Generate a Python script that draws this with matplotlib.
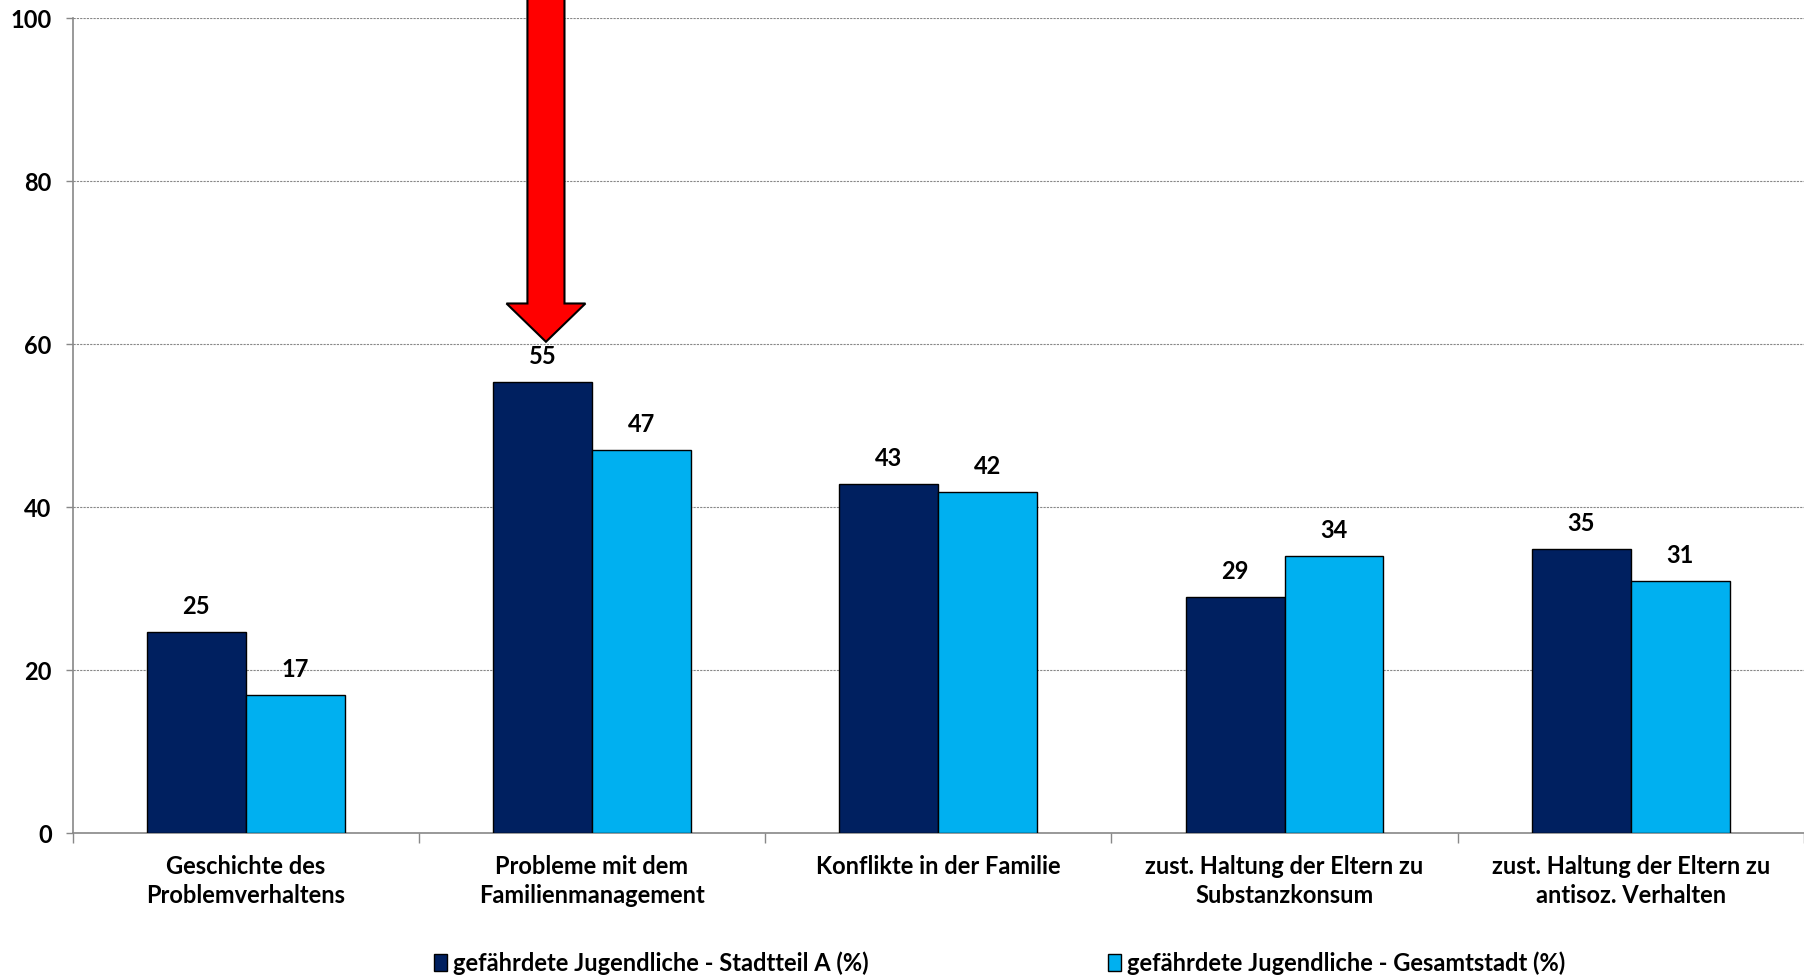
import matplotlib
matplotlib.use('Agg')
import matplotlib.pyplot as plt
import numpy as np
from matplotlib.patches import FancyArrow, Patch

plt.rcParams['font.family'] = ['Lato', 'DejaVu Sans']
plt.rcParams['font.weight'] = 'bold'

# Data
categories = ['Geschichte des\nProblemverhaltens',
              'Probleme mit dem\nFamilienmanagement',
              'Konflikte in der Familie',
              'zust. Haltung der Eltern zu\nSubstanzkonsum',
              'zust. Haltung der Eltern zu\nantisoz. Verhalten']
stadtteil = [24.7, 55.4, 42.9, 29.0, 34.9]
gesamt = [16.9, 47.0, 41.9, 34.0, 30.9]
series_names = ['gefährdete Jugendliche - Stadtteil A (%)',
                'gefährdete Jugendliche - Gesamtstadt (%)']
yticks = [0, 20, 40, 60, 80, 100]
highlight = 1  # category pointed at by the red arrow

dark = '#002060'
light = '#00B0F0'
fs = 17

fig = plt.figure(figsize=(18.04, 9.76), dpi=100)
ax = fig.add_axes([0.0402, 0.1465, 0.9598, 0.8347])

x = np.arange(len(categories))
w = 1 / 1.75 / 2
b1 = ax.bar(x - w / 2, stadtteil, w, color=dark, edgecolor='black', linewidth=1, zorder=3)
b2 = ax.bar(x + w / 2, gesamt, w, color=light, edgecolor='black', linewidth=1, zorder=3)

for bars, vals in ((b1, stadtteil), (b2, gesamt)):
    for r, v in zip(bars, vals):
        ax.annotate(f'{round(v)}', (r.get_x() + r.get_width() / 2, v),
                    xytext=(0, 10), textcoords='offset points',
                    ha='center', va='bottom', fontsize=fs, fontweight='bold')

ax.set_xlim(-0.5, len(categories) - 0.5)
ax.set_ylim(0, 100)
ax.set_yticks(yticks)
ax.set_xticks(x)
ax.set_xticklabels(categories, fontsize=fs, fontweight='bold', linespacing=1.3)
ax.set_xticks(np.arange(len(categories) + 1) - 0.5, minor=True)
ax.tick_params(axis='x', which='major', length=0, pad=16)
ax.tick_params(axis='x', which='minor', length=7, color='#888888', width=1)
ax.tick_params(axis='y', length=5, color='#888888', width=1, pad=10, labelsize=fs)
for lab in ax.get_yticklabels():
    lab.set_fontweight('bold')

ax.grid(axis='y', color='#888888', linestyle=(0, (2, 1)), linewidth=0.8, zorder=0)
for s in ('top', 'right'):
    ax.spines[s].set_visible(False)
for s in ('left', 'bottom'):
    ax.spines[s].set_color('#888888')
    ax.spines[s].set_linewidth(1.2)

# red arrow pointing at the highlighted bar
ax_x = x[highlight] - w / 2 + 0.01
tip = stadtteil[highlight] + 4.9
arrow = FancyArrow(ax_x, 115, 0, tip - 115, width=0.107, head_width=0.228,
                   head_length=4.7, length_includes_head=True,
                   facecolor='#FF0000', edgecolor='black', linewidth=1.5,
                   clip_on=False, zorder=5)
ax.add_patch(arrow)

# legend: two entries placed apart like the original
for color, name, lx in ((dark, series_names[0], 0.2405), (light, series_names[1], 0.614)):
    fig.legend([Patch(facecolor=color, edgecolor='black')], [name],
               loc='center left', bbox_to_anchor=(lx, 0.0133), frameon=False,
               fontsize=fs, handlelength=0.55, handleheight=0.7,
               handletextpad=0.25, borderpad=0, borderaxespad=0)

fig.savefig('out.png', dpi=100)
